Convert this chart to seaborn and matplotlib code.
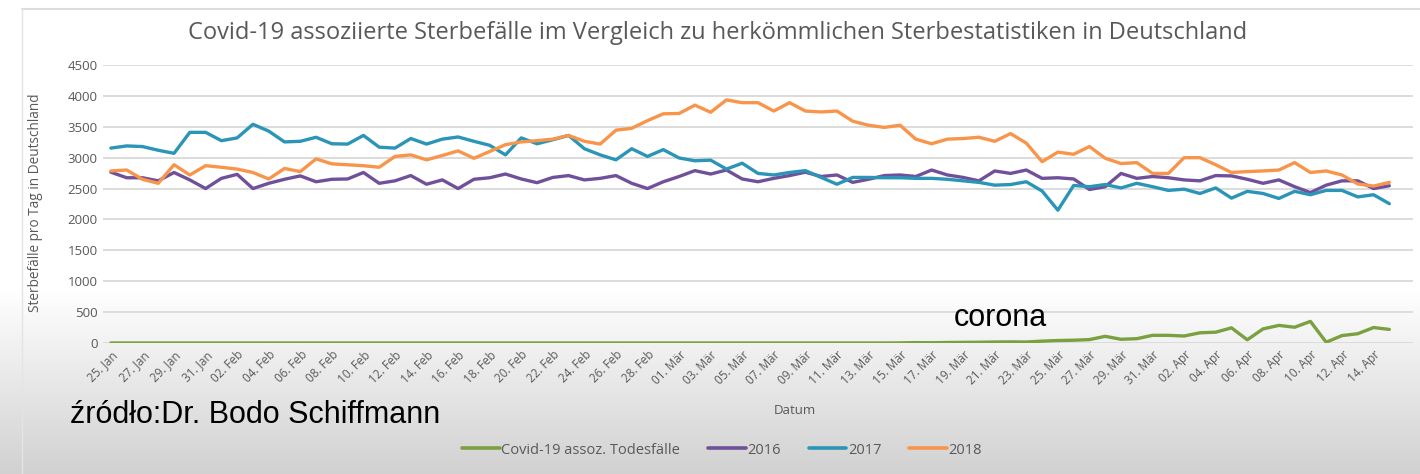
import numpy as np
import pandas as pd
import seaborn as sns
import matplotlib.pyplot as plt
from matplotlib.lines import Line2D

# daily values, 25 Jan - 15 Apr
dates = pd.date_range("2020-01-25", "2020-04-15")
monate = {1: "Jan", 2: "Feb", 3: "Mär", 4: "Apr"}

covid = [0] * 50 + [2, 6, 4, 8, 10, 12, 16, 18, 16, 30,
                    40, 45, 55, 108, 60, 70, 124, 124, 113, 165,
                    175, 245, 52, 228, 285, 255, 350, 12, 120, 150,
                    250, 220]

y2016 = [2765, 2675, 2675, 2625, 2760, 2640, 2500, 2665, 2730, 2500,
         2585, 2650, 2705, 2610, 2650, 2655, 2760, 2585, 2625, 2710,
         2570, 2640, 2500, 2650, 2675, 2735, 2655, 2595, 2680, 2710,
         2640, 2665, 2710, 2585, 2500, 2610, 2695, 2790, 2735, 2800,
         2655, 2610, 2665, 2710, 2765, 2695, 2720, 2600, 2650, 2710,
         2720, 2695, 2800, 2720, 2680, 2625, 2785, 2745, 2800, 2665,
         2675, 2655, 2485, 2530, 2745, 2665, 2695, 2675, 2640, 2625,
         2710, 2705, 2650, 2585, 2640, 2530, 2435, 2555, 2625, 2625,
         2500, 2545]

y2017 = [3155, 3190, 3180, 3120, 3070, 3410, 3410, 3275, 3320, 3540,
         3430, 3255, 3265, 3330, 3225, 3220, 3360, 3170, 3155, 3310,
         3220, 3300, 3335, 3265, 3200, 3045, 3320, 3225, 3290, 3360,
         3145, 3045, 2965, 3145, 3020, 3130, 2995, 2950, 2960, 2815,
         2910, 2745, 2720, 2760, 2790, 2680, 2570, 2680, 2680, 2675,
         2675, 2665, 2665, 2650, 2625, 2600, 2555, 2565, 2610, 2460,
         2150, 2550, 2530, 2565, 2510, 2585, 2530, 2470, 2490, 2420,
         2510, 2345, 2455, 2420, 2340, 2455, 2400, 2470, 2470, 2365,
         2400, 2255]

y2018 = [2785, 2800, 2650, 2585, 2885, 2720, 2870, 2845, 2815, 2760,
         2655, 2825, 2775, 2980, 2900, 2885, 2870, 2845, 3020, 3045,
         2965, 3035, 3110, 2990, 3100, 3210, 3255, 3275, 3300, 3360,
         3265, 3220, 3445, 3475, 3600, 3710, 3715, 3850, 3735, 3935,
         3890, 3890, 3755, 3890, 3755, 3740, 3755, 3590, 3525, 3490,
         3525, 3300, 3225, 3300, 3310, 3330, 3265, 3390, 3235, 2935,
         3090, 3055, 3180, 2990, 2905, 2920, 2745, 2745, 3000, 3000,
         2885, 2760, 2775, 2785, 2800, 2920, 2760, 2785, 2720, 2575,
         2540, 2600]

series_names = ["Covid-19 assoz. Todesfälle", "2016", "2017", "2018"]
colors = ["#7AA03F", "#71509A", "#2B95B7", "#F8954A"]
tick_labels = [f"{d.day:02d}. {monate[d.month]}" for d in dates[::2]]

df = pd.DataFrame({"tag": np.arange(len(dates)),
                   series_names[0]: covid, series_names[1]: y2016,
                   series_names[2]: y2017, series_names[3]: y2018})
df = df.melt(id_vars="tag", var_name="serie", value_name="wert")

sns.set_style("white")
plt.rcParams["font.family"] = ["Open Sans", "DejaVu Sans"]
grey = "#595959"

fig = plt.figure(figsize=(14.2, 4.74), dpi=100)

# light grey video overlay at the bottom
bg = fig.add_axes([0, 0, 1, 1], zorder=-10)
rows = np.ones(474)
rows[290:] = np.linspace(1.0, 0.82, 474 - 290)
grad = np.dstack([rows[:, None] * np.ones((1, 10))] * 3)
bg.imshow(grad, aspect="auto", extent=[0, 1, 0, 1])
bg.axis("off")
fig.add_artist(Line2D([22 / 1420, 1], [1 - 9 / 474] * 2, transform=fig.transFigure,
                      color="#dcdcdc", lw=1.5))
fig.add_artist(Line2D([22 / 1420] * 2, [0, 1 - 9 / 474], transform=fig.transFigure,
                      color="#e4e4e4", lw=1.0))

ax = fig.add_axes([103 / 1420, 1 - 343 / 474, 1310 / 1420, 278 / 474])
ax.patch.set_alpha(0)
sns.lineplot(data=df, x="tag", y="wert", hue="serie", hue_order=series_names,
             palette=colors, lw=2.4, ax=ax, legend=False)

ax.set_xlim(-0.5, len(dates) + 0.5)
ax.set_ylim(0, 4500)
ax.set_yticks(range(0, 4501, 500))
ax.yaxis.grid(True, color="#d9d9d9", lw=1.3)
ax.set_axisbelow(True)
sns.despine(ax=ax, left=True, bottom=True)
ax.set_xticks(np.arange(0, len(dates), 2))
ax.set_xticklabels(tick_labels, rotation=45, ha="right", rotation_mode="anchor",
                   fontsize=8.5, color=grey)
ax.tick_params(axis="both", length=0)
ax.tick_params(axis="y", labelsize=9.5, labelcolor=grey, pad=4)
ax.tick_params(axis="x", pad=4)
ax.set_xlabel("")
ax.set_ylabel("")

fig.text(718 / 1420, 1 - 33 / 474,
         "Covid-19 assoziierte Sterbefälle im Vergleich zu herkömmlichen Sterbestatistiken in Deutschland",
         ha="center", va="center", fontsize=17, color=grey)
fig.text(36 / 1420, 1 - 203 / 474, "Sterbefälle pro Tag in Deutschland", rotation=90,
         ha="center", va="center", fontsize=9.8, color=grey)
fig.text(795 / 1420, 1 - 410 / 474, "Datum", ha="center", va="center",
         fontsize=9.5, color=grey)

# overlay texts from the video
fig.text(1000 / 1420, 1 - 318 / 474, "corona", ha="center", va="center",
         fontsize=22, color="black", family=["Liberation Sans", "DejaVu Sans"])
fig.text(70 / 1420, 1 - 415 / 474, "źródło:Dr. Bodo Schiffmann", ha="left", va="center",
         fontsize=22, color="black", family=["Liberation Sans", "DejaVu Sans"])

handles = [Line2D([], [], color=c, lw=2.6) for c in colors]
fig.legend(handles, series_names, loc="center", bbox_to_anchor=(722 / 1420, 1 - 450 / 474),
           ncol=4, frameon=False, fontsize=10.5, labelcolor=grey, handlelength=2.6,
           handletextpad=0.1, columnspacing=1.9)

fig.savefig("out.png", dpi=100)
